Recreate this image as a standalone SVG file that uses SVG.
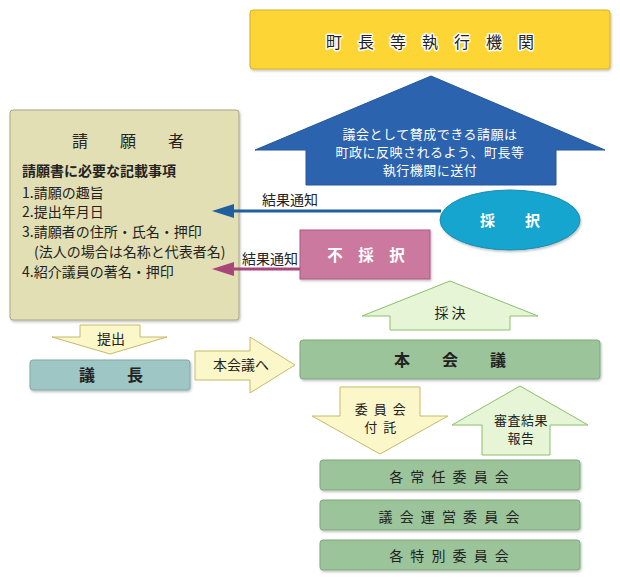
<svg xmlns="http://www.w3.org/2000/svg" width="620" height="580" viewBox="0 0 620 580">
<style>
text{font-family:"Noto Sans CJK JP","Noto Sans",sans-serif;fill:#222;}
.c{text-anchor:middle;}
.b{font-weight:bold;}
.w{fill:#fff;}
.f14{font-size:14px;}
.f13{font-size:13px;}
.box{filter:url(#sh);}
.ylw{fill:#FBF7C9;stroke:#C5BA6A;stroke-width:1;}
.grn{fill:#E5F5D6;stroke:#8CBF6A;stroke-width:1;}
.gbox{fill:#9CC49A;stroke:#7FA97D;stroke-width:1;}
</style>
<defs>
<filter id="sh" x="-5%" y="-5%" width="115%" height="125%">
<feDropShadow dx="1" dy="1.5" stdDeviation="1.2" flood-color="#000" flood-opacity="0.25"/>
</filter>
</defs>

<g id="executive">
<rect class="box" x="250" y="10" width="360" height="59" rx="3" fill="#FDD535" stroke="#D6B126"/>
<text class="c" x="430" y="48" font-size="16" style="paint-order:stroke;stroke:#fff;stroke-width:3px;stroke-linejoin:round">町　長　等　執　行　機　関</text>
</g>

<g id="send-arrow">
<polygon points="431,76 605,150 556,150 556,185 306,185 306,150 255,150" fill="#2B63AE" stroke="#24589C"/>
<text class="c w" font-size="13" letter-spacing="0.5" x="430" y="139">議会として賛成できる請願は</text>
<text class="c w" font-size="13" letter-spacing="0.5" x="430" y="157">町政に反映されるよう、町長等</text>
<text class="c w" font-size="13" letter-spacing="0.5" x="430" y="175">執行機関に送付</text>
</g>

<g id="petitioner">
<rect class="box" x="10" y="110" width="229" height="210" rx="3" fill="#E2DFB4" stroke="#A8A688"/>
<text class="c" x="128" y="147" font-size="16">請　　願　　者</text>
<text class="b f14" x="22" y="176">請願書に必要な記載事項</text>
<text class="f14" x="22" y="198">1.請願の趣旨</text>
<text class="f14" x="22" y="217">2.提出年月日</text>
<text class="f14" x="22" y="237">3.請願者の住所・氏名・押印</text>
<text class="f14" x="34" y="257">(法人の場合は名称と代表者名)</text>
<text class="f14" x="22" y="277">4.紹介議員の著名・押印</text>
</g>

<g id="connectors">
<line x1="441" y1="211" x2="230" y2="211" stroke="#1F5FA0" stroke-width="3"/>
<polygon points="212,211 234,204 234,218" fill="#1F5FA0"/>
<line x1="300" y1="269" x2="230" y2="269" stroke="#A8457A" stroke-width="3"/>
<polygon points="212,269 234,262 234,276" fill="#A8457A"/>
<text class="f14" x="262" y="205">結果通知</text>
<text class="f14" x="242" y="264">結果通知</text>
</g>

<g id="adopted">
<ellipse class="box" cx="510" cy="220" rx="70" ry="30" fill="#14A5CE" stroke="#1B8DB0"/>
<text class="c w b" x="510" y="226" font-size="15">採　　択</text>
</g>

<g id="rejected">
<rect class="box" x="300" y="230" width="130" height="49" fill="#CC79A0" stroke="#AA5A80"/>
<text class="c w b" x="366" y="261" font-size="15.5">不　採　択</text>
</g>

<g id="vote-arrow">
<polygon class="grn" points="450,281 538,316 510,316 510,330 390,330 390,316 362,316"/>
<text class="c f14" x="450" y="318">採 決</text>
</g>

<g id="plenary">
<rect class="box gbox" x="300" y="340" width="300" height="39" rx="3"/>
<text class="c b" x="450" y="366" font-size="16">本　　会　　議</text>
</g>

<g id="refer-arrow">
<polygon class="ylw" points="340,387 420,387 420,416 448,416 380,454 312,416 340,416"/>
<text class="c f13" x="381" y="414" letter-spacing="1.5">委 員 会</text>
<text class="c f13" x="381" y="432" letter-spacing="1.5">付 託</text>
</g>

<g id="report-arrow">
<polygon class="grn" points="520,386 588,425 550,425 550,455 482,455 482,425 452,425"/>
<text class="c f13" x="521" y="425" letter-spacing="0.5">審査結果</text>
<text class="c f13" x="521" y="443" letter-spacing="0.5">報告</text>
</g>

<g id="standing">
<rect class="box gbox" x="320" y="460" width="260" height="30" rx="3"/>
<text class="c f14" x="450" y="482" letter-spacing="2">各 常 任 委 員 会</text>
</g>
<g id="steering">
<rect class="box gbox" x="320" y="500" width="260" height="30" rx="3"/>
<text class="c f14" x="450" y="522" letter-spacing="2">議 会 運 営 委 員 会</text>
</g>
<g id="special">
<rect class="box gbox" x="320" y="540" width="260" height="30" rx="3"/>
<text class="c f14" x="450" y="561" letter-spacing="2">各 特 別 委 員 会</text>
</g>

<g id="submit-arrow">
<polygon class="ylw" points="80,325 140,325 140,337 167,337 110,354 52,337 80,337"/>
<text class="c f14" x="111" y="344">提出</text>
</g>

<g id="chair">
<rect class="box" x="30" y="360" width="160" height="30" rx="3" fill="#9EC6C4" stroke="#7FA8A8"/>
<text class="c b" x="111" y="381" font-size="16">議　　長</text>
</g>

<g id="to-plenary-arrow">
<polygon class="ylw" points="195,351 250,351 250,337 295,365 250,393 250,380 195,380"/>
<text class="c f14" x="241" y="370">本会議へ</text>
</g>
</svg>
